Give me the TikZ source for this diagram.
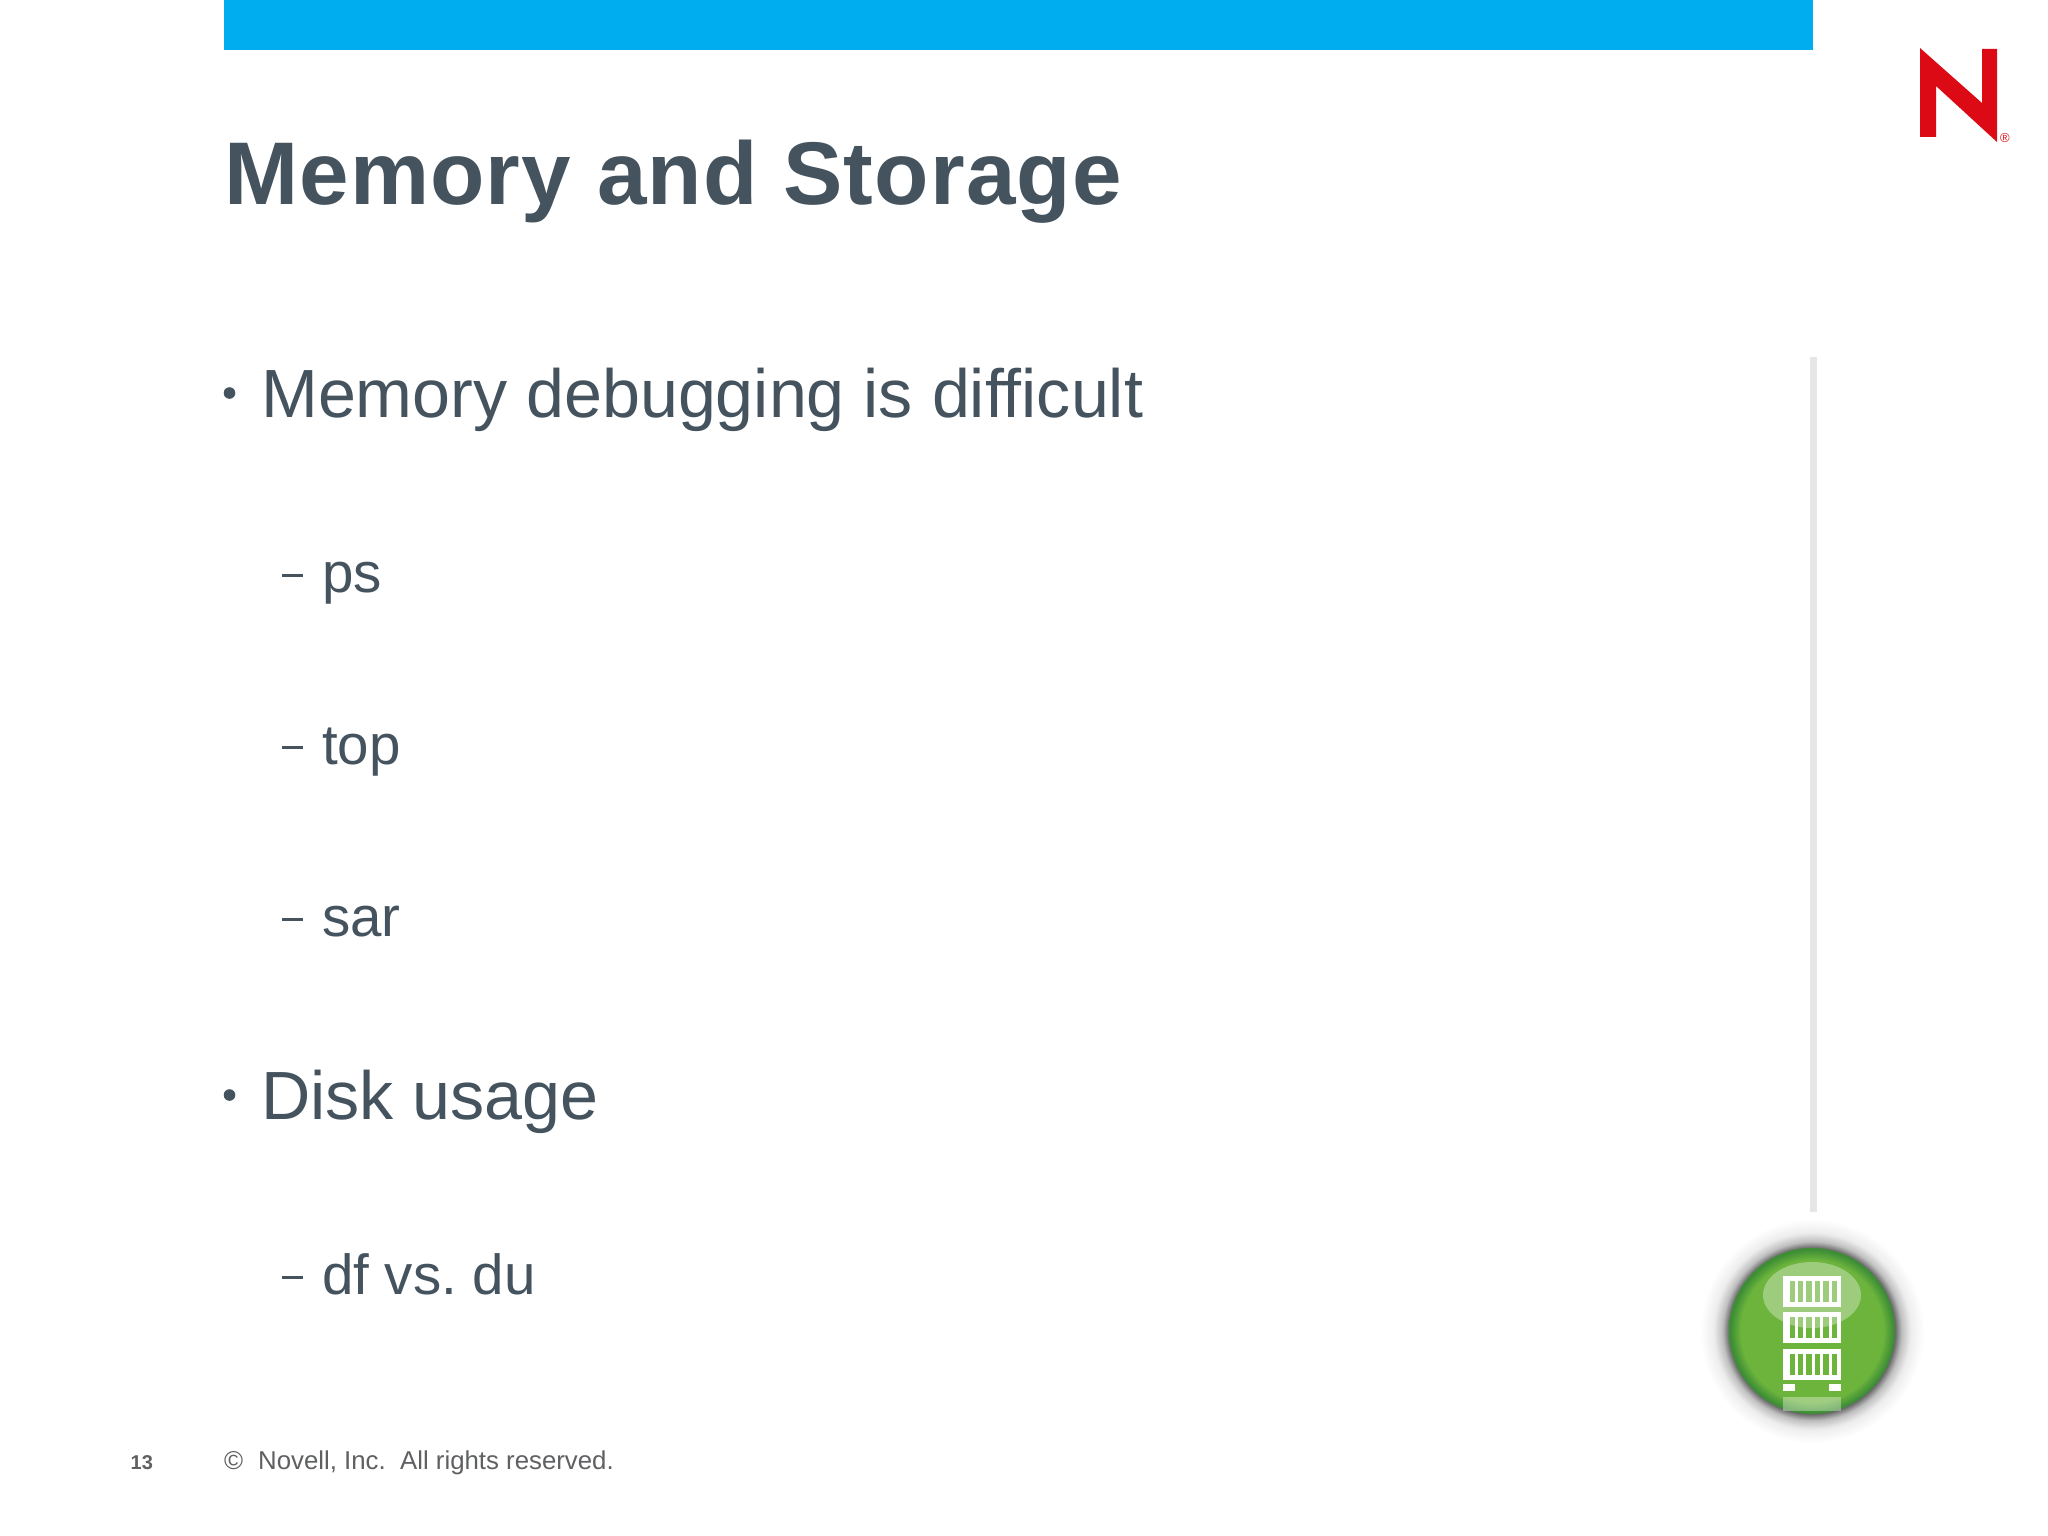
\documentclass[tikz,border=0pt]{standalone}
\usepackage{fontspec}
\setmainfont{Liberation Sans}
\newfontfamily\titlefont[LetterSpace=1.3]{Liberation Sans}
\usetikzlibrary{positioning}
\definecolor{novellblue}{HTML}{00AEEF}
\definecolor{slate}{HTML}{44535E}
\definecolor{footgray}{HTML}{5F6062}
\definecolor{sidegray}{HTML}{E6E6E6}
\definecolor{novellred}{HTML}{DC0A14}
\definecolor{btngreen}{HTML}{6CB43C}
\definecolor{btnedge}{HTML}{3E8E36}
\pgfdeclareradialshading{haloshade}{\pgfpoint{0bp}{0bp}}{color(0bp)=(black!60);color(18.5bp)=(black!60);color(20bp)=(black!25);color(22bp)=(black!7);color(25bp)=(white);color(50bp)=(white)}
\pgfdeclareradialshading{btnshade}{\pgfpoint{0bp}{0bp}}{color(0bp)=(btngreen);color(21.5bp)=(btngreen);color(24.5bp)=(btnedge);color(25bp)=(btnedge);color(50bp)=(btnedge)}
\tikzstyle{line1}  = [anchor=base west, inner sep=0pt, text=slate, font=\fontsize{68.2}{80}\selectfont]
\tikzstyle{line2}  = [anchor=base west, inner sep=0pt, text=slate, font=\fontsize{56.5}{66}\selectfont]
\tikzstyle{foot}   = [anchor=base west, inner sep=0pt, text=footgray, font=\fontsize{25.8}{30}\selectfont]
\tikzstyle{rack}   = [fill=white, draw=none]
\begin{document}
\frenchspacing
\begin{tikzpicture}[x=1pt,y=-1pt]
		\useasboundingbox (0,0) rectangle (2048,1536);
		\fill[white] (0,0) rectangle (2048,1536);
		\fill[novellblue] (224,0) rectangle (1813,50);
		\fill[sidegray] (1810,357) rectangle (1817,1212);

		% heading and bullets
		\node[anchor=base west, inner sep=0pt, text=slate, font=\fontsize{89}{100}\titlefont\bfseries] (title) at (224,204) {Memory and Storage};
		\foreach \nm/\yy/\txt in {memory/417/Memory debugging is difficult, disk/1119/Disk usage} {
			\fill[slate] (229.5,\yy-24) circle (5.8);
			\node[line1] (\nm) at (261,\yy) {\txt};
		}
		\foreach \nm/\yy/\txt in {ps/592/ps, top/764/top, sar/936/sar, dfdu/1294/df vs. du} {
			\fill[slate] (282,\yy-18.5) rectangle (303,\yy-15.5);
			\node[line2] (\nm) at (322,\yy) {\txt};
		}

		% footer
		\node[foot, font=\fontsize{20}{24}\selectfont\bfseries] (pagenum) at (130.5,1469) {13};
		\node[foot] (copyr) at (224,1469) {©};
		\node[foot] (rights) at (258,1469) {Novell, Inc.\ \ All rights reserved.};

		% logo
		\fill[novellred] (1920,48) -- (1982,103) -- (1982,49) -- (1997,49) -- (1997,142) -- (1936,86) -- (1936,137) -- (1920,137) -- cycle;
		\node[inner sep=0pt, text=novellred, font=\fontsize{13}{14}\selectfont] (regd) at (2005,138) {®};

		% button
		\shade[shading=haloshade] (1812,1331) circle (112);
		\shade[shading=btnshade] (1812,1331) circle (83);
		\fill[white, opacity=.35] (1783,1397) rectangle (1841,1411);
		\foreach \yy in {1276,1312,1349} {
			\fill[rack] (1783,\yy) rectangle (1841,\yy+31);
			\foreach \i in {0,...,5}
				\fill[btngreen] (1789.5+\i*8.4,\yy+5) rectangle (1795+\i*8.4,\yy+26);
		}
		\fill[rack] (1783,1384) rectangle (1795,1391);
		\fill[rack] (1829,1384) rectangle (1841,1391);
		\fill[white, opacity=.33] (1812,1295) ellipse (49 and 33);
	\end{tikzpicture}
\end{document}
